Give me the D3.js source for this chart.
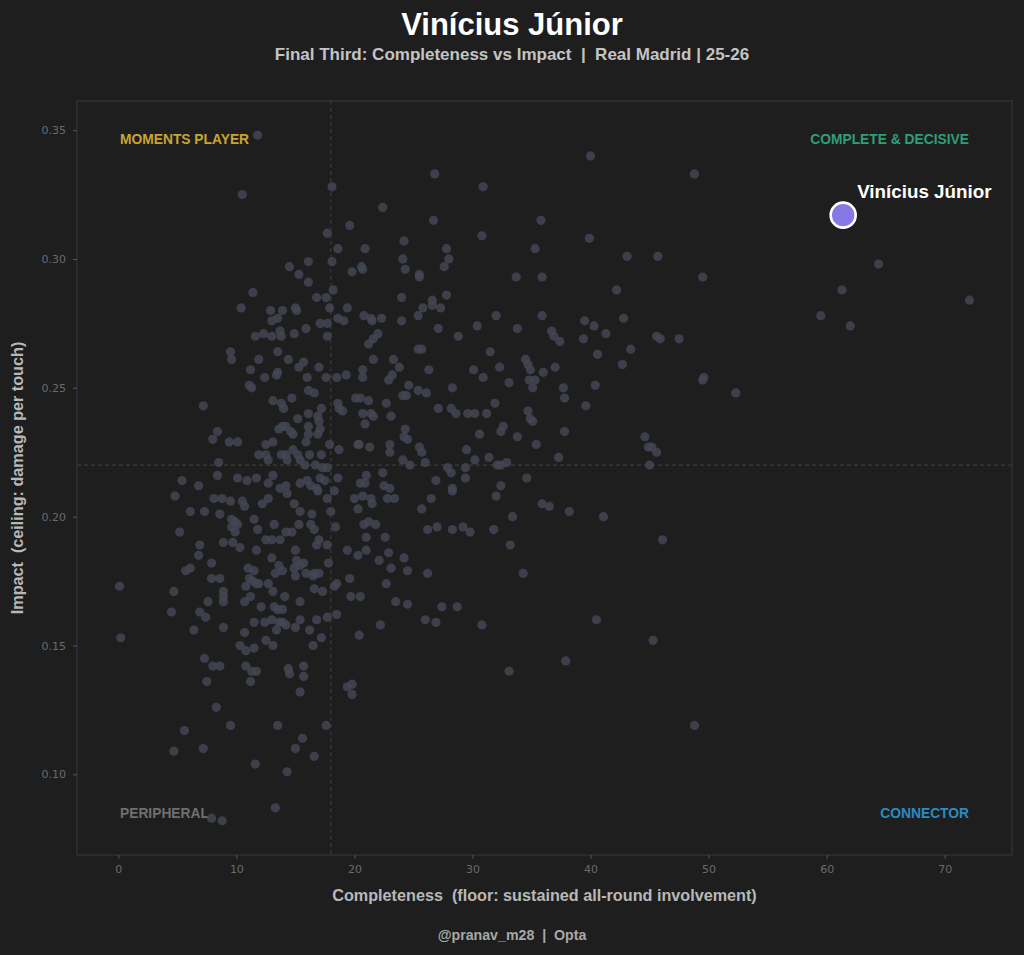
<!DOCTYPE html>
<html>
<head>
<meta charset="utf-8">
<script src="https://cdn.jsdelivr.net/npm/d3@7"></script>
<style>
  html, body { margin: 0; padding: 0; background: #1e1e1e; }
  svg { display: block; }
</style>
</head>
<body>
<div id="chart"></div>
<script>
// Completeness (x) and Impact (y) for every player in the pool
const completeness = [
  11.8,18.1,10.5,17.7,18.6,16.1,14.5,18.1,15.3,16.1,11.4,18.2,16.8,17.6,10.4,12.9,13.9,15.0,15.1,17.9,13.0,13.5,17.1,17.7,18.6,15.9,13.7,12.3,11.6,13.0,13.8,14.9,17.7,
  26.8,30.9,22.4,26.7,35.8,19.6,30.8,40.0,39.9,24.2,20.9,27.8,35.3,24.1,28.0,20.6,20.7,19.8,24.3,27.6,25.5,25.5,33.7,35.9,27.8,24.0,26.6,26.6,27.3,25.8,19.4,20.8,21.4,21.5,22.3,19.1,24.0,25.4,32.0,35.9,39.5,30.4,33.8,27.1,22.0,21.6,28.8,36.7,36.9,37.4,39.4,
  9.5,9.6,13.5,11.9,14.4,15.7,15.3,17.0,11.2,12.4,13.4,13.5,16.0,17.6,18.5,11.1,11.3,16.1,16.6,14.7,13.1,13.8,14.0,7.2,17.2,18.6,18.7,15.2,16.1,16.9,17.0,13.9,13.6,14.2,14.6,14.8,16.1,16.1,16.9,17.1,8.4,8.0,9.4,10.1,12.5,13.1,15.9,17.9,18.7,14.8,15.2,16.2,17.2,11.9,12.5,12.7,13.8,14.2,14.3,15.4,15.8,8.5,16.7,17.3,17.7,17.1,17.5,18.6,5.4,8.4,10.1,10.9,11.7,13.1,12.7,14.2,13.7,15.4,16.0,16.3,16.8,16.9,6.8,4.8,8.1,8.8,9.5,10.5,10.7,12.2,12.7,14.3,14.9,18.3,17.7,6.1,7.3,8.6,15.4,16.4,18.0,9.6,9.9,9.6,10.1,11.5,13.2,15.3,16.3,16.6,18.4,5.2,11.8,14.2,14.7,
  21.2,25.4,25.7,31.5,21.6,23.3,23.8,20.7,20.7,19.3,26.3,30.1,32.3,34.5,34.7,34.9,36.0,37.0,23.2,22.9,30.9,33.1,34.8,35.3,35.1,24.6,28.3,25.4,26.1,24.1,24.4,20.1,20.5,21.2,37.7,37.8,39.6,19.0,22.7,31.9,27.1,28.2,28.6,29.6,30.2,31.2,34.7,34.9,35.1,20.7,21.4,21.6,20.9,23.1,24.3,24.2,24.5,32.6,32.4,30.6,33.8,37.8,35.4,20.3,20.4,21.3,23.0,23.0,25.5,25.7,29.5,37.3,24.1,24.7,26.0,30.2,31.4,32.9,32.4,32.1,29.4,29.4,27.9,28.2,22.4,21.0,20.5,20.9,26.9,34.6,22.5,23.0,28.3,28.3,32.4,32.0,20.0,20.7,21.4,21.5,22.8,23.4,26.5,20.3,25.7,35.9,36.5,38.2,33.4,20.8,21.2,21.8,26.2,27.0,28.3,29.2,29.8,31.8,
  9.9,6.9,8.9,9.7,10.3,12.5,13.0,13.7,17.0,16.8,17.7,11.7,15.0,6.8,13.0,7.9,15.1,15.4,15.7,14.9,17.8,5.7,6.1,11.0,11.5,13.6,13.9,13.3,15.9,16.6,17.0,16.5,15.0,7.9,8.6,11.1,11.4,11.9,11.7,12.7,0.1,4.7,10.8,13.1,16.6,17.3,18.3,18.5,8.9,8.9,8.9,7.6,11.2,10.7,14.1,15.4,12.1,13.2,13.5,13.9,4.5,6.9,7.4,18.5,17.7,16.8,15.4,11.5,12.4,13.0,13.6,13.9,14.2,13.4,15.0,16.2,6.4,8.9,10.7,0.2,17.2,16.5,12.5,13.1,10.3,11.5,10.8,7.3,8.0,8.6,10.8,11.3,11.7,14.4,14.5,15.7,15.7,7.5,11.2,
  21.0,22.6,33.2,19.4,20.3,21.0,22.9,22.1,24.2,23.1,24.5,26.2,34.3,19.6,22.7,19.7,20.5,23.5,24.5,27.4,28.7,26.0,26.9,30.8,22.2,20.4,37.9,33.1,19.4,19.8,
  15.4,19.8,8.3,5.6,9.5,13.5,17.6,15.6,15.0,16.6,4.7,7.2,11.6,14.3,13.3,7.9,8.8,
  48.8,43.1,45.7,49.5,64.4,61.3,72.1,42.2,59.5,62.0,40.3,42.8,41.3,45.6,45.9,47.5,43.4,40.6,42.7,40.4,49.6,49.5,52.3,
  44.6,44.9,45.2,45.6,45.0,41.1,46.1,40.5,45.3,48.8
];
const impact = [
  .348,.328,.325,.310,.304,.299,.297,.299,.294,.291,.287,.288,.285,.285,.281,.280,.280,.281,.280,.281,.276,.277,.275,.275,.277,.273,.272,.271,.270,.270,.270,.271,.270,
  .333,.328,.320,.315,.315,.313,.309,.340,.308,.307,.304,.304,.304,.300,.300,.297,.296,.295,.296,.297,.294,.293,.293,.293,.286,.285,.284,.282,.281,.281,.281,.278,.277,.276,.277,.276,.276,.278,.278,.278,.276,.274,.273,.273,.271,.269,.270,.272,.270,.268,.269,
  .264,.261,.264,.261,.261,.260,.258,.258,.257,.254,.255,.256,.254,.254,.254,.251,.250,.249,.248,.246,.245,.244,.242,.243,.242,.244,.242,.238,.240,.239,.237,.235,.234,.235,.233,.232,.235,.232,.232,.234,.233,.230,.229,.229,.228,.229,.229,.228,.226,.226,.224,.224,.224,.224,.224,.222,.224,.224,.222,.222,.220,.221,.220,.219,.219,.215,.214,.215,.214,.216,.215,.214,.215,.216,.213,.212,.211,.213,.214,.212,.211,.210,.212,.208,.207,.207,.206,.206,.204,.205,.207,.209,.205,.210,.207,.202,.202,.201,.202,.201,.202,.199,.198,.196,.197,.199,.197,.197,.197,.195,.196,.194,.195,.194,.194,
  .267,.265,.265,.264,.261,.261,.258,.257,.254,.255,.257,.257,.258,.261,.259,.257,.256,.258,.255,.253,.254,.252,.253,.253,.250,.251,.250,.249,.248,.247,.247,.246,.246,.245,.250,.246,.243,.241,.244,.244,.242,.242,.240,.240,.240,.240,.241,.238,.237,.240,.240,.239,.236,.239,.234,.231,.230,.235,.233,.232,.231,.233,.228,.228,.228,.227,.228,.225,.227,.225,.226,.223,.222,.220,.221,.222,.223,.221,.220,.220,.219,.215,.219,.217,.217,.216,.213,.213,.214,.215,.212,.211,.211,.210,.212,.208,.207,.208,.207,.205,.207,.207,.207,.203,.203,.205,.204,.202,.200,.197,.198,.197,.195,.196,.195,.196,.194,.195,
  .194,.189,.190,.190,.188,.191,.191,.191,.191,.189,.189,.187,.187,.185,.184,.182,.183,.181,.182,.180,.182,.179,.180,.180,.179,.181,.179,.178,.178,.178,.178,.177,.177,.176,.176,.176,.175,.174,.174,.174,.173,.171,.173,.171,.172,.171,.173,.174,.171,.169,.167,.167,.169,.167,.169,.167,.165,.165,.164,.164,.163,.163,.161,.162,.161,.160,.160,.159,.159,.160,.159,.159,.158,.156,.157,.156,.156,.157,.155,.153,.153,.150,.152,.150,.150,.149,.148,.145,.142,.142,.142,.140,.140,.141,.139,.142,.138,.136,.136,
  .192,.192,.189,.187,.185,.187,.186,.183,.184,.180,.179,.178,.178,.176,.174,.169,.169,.167,.166,.165,.165,.160,.159,.158,.158,.154,.144,.140,.134,.135,
  .132,.131,.126,.117,.119,.119,.119,.114,.110,.107,.109,.110,.104,.101,.087,.083,.082,
  .333,.301,.301,.293,.298,.288,.284,.288,.278,.274,.274,.277,.271,.270,.269,.269,.265,.263,.259,.251,.254,.253,.248,
  .231,.227,.227,.225,.220,.200,.191,.160,.152,.119
];

const highlightName = "Vinícius Júnior";
const highlightPoint = [61.4, 0.317];

const xSplit = 18;     // completeness threshold
const ySplit = 0.22;   // impact threshold

const xTicks = [0, 10, 20, 30, 40, 50, 60, 70];
const yTicks = [0.10, 0.15, 0.20, 0.25, 0.30, 0.35];

const quadrants = [
  { label: "MOMENTS PLAYER", color: "#c8a530", corner: "tl" },
  { label: "COMPLETE & DECISIVE", color: "#2e9f76", corner: "tr" },
  { label: "PERIPHERAL", color: "#6f6f6f", corner: "bl" },
  { label: "CONNECTOR", color: "#2a8cc2", corner: "br" }
];

const W = 1024, H = 955;
const margin = { top: 101, right: 12, bottom: 100, left: 77 };
const innerW = W - margin.left - margin.right;
const innerH = H - margin.top - margin.bottom;
const FONT = "'Liberation Sans', Arial, sans-serif";

const svg = d3.select("#chart").append("svg")
    .attr("width", W)
    .attr("height", H)
    .style("background", "#1e1e1e");

// 5% padding around the data range, like the source
const allX = completeness.concat([highlightPoint[0]]);
const allY = impact.concat([highlightPoint[1]]);
const pad = (ext) => { const p = (ext[1] - ext[0]) * 0.05; return [ext[0] - p, ext[1] + p]; };

const x = d3.scaleLinear().domain(pad(d3.extent(allX))).range([0, innerW]);
const y = d3.scaleLinear().domain(pad(d3.extent(allY))).range([innerH, 0]);

const g = svg.append("g").attr("transform", `translate(${margin.left},${margin.top})`);

// frame
g.append("rect")
    .attr("width", innerW)
    .attr("height", innerH)
    .attr("fill", "none")
    .attr("stroke", "#353535")
    .attr("stroke-width", 1.2);

// axes
const xAxis = g.append("g")
    .attr("transform", `translate(0,${innerH})`)
    .call(d3.axisBottom(x).tickValues(xTicks).tickFormat(d3.format("d")).tickSize(4).tickPadding(6));
const yAxis = g.append("g")
    .call(d3.axisLeft(y).tickValues(yTicks).tickFormat(d3.format(".2f")).tickSize(4).tickPadding(7));

[xAxis, yAxis].forEach(a => {
    a.select(".domain").remove();
    a.selectAll(".tick line").attr("stroke", "#555");
    a.selectAll(".tick text")
        .attr("fill", "#6a6a6a")
        .style("font-family", "'DejaVu Sans', sans-serif")
        .style("font-size", "11px");
});

// split lines
g.append("line")
    .attr("x1", x(xSplit)).attr("x2", x(xSplit))
    .attr("y1", 0).attr("y2", innerH)
    .attr("stroke", "#3c3c3c").attr("stroke-width", 1.1)
    .attr("stroke-dasharray", "4,3");
g.append("line")
    .attr("x1", 0).attr("x2", innerW)
    .attr("y1", y(ySplit)).attr("y2", y(ySplit))
    .attr("stroke", "#3c3c3c").attr("stroke-width", 1.1)
    .attr("stroke-dasharray", "4,3");

// quadrant labels
const qx = { l: innerW * 0.046, r: innerW * 0.954 };
const qy = { t: innerH * 0.05, b: innerH * 0.944 };
g.append("g").selectAll("text")
    .data(quadrants)
    .join("text")
    .attr("x", d => d.corner[1] === "l" ? qx.l : qx.r)
    .attr("y", d => d.corner[0] === "t" ? qy.t : qy.b)
    .attr("dy", "0.35em")
    .attr("text-anchor", d => d.corner[1] === "l" ? "start" : "end")
    .attr("fill", d => d.color)
    .style("font-family", FONT)
    .style("font-weight", "bold")
    .style("font-size", "13.8px")
    .text(d => d.label);

// player pool
g.append("g").selectAll("circle")
    .data(d3.range(completeness.length))
    .join("circle")
    .attr("cx", i => x(completeness[i]))
    .attr("cy", i => y(impact[i]))
    .attr("r", 4.6)
    .attr("fill", "#434753")
    .attr("fill-opacity", 0.85);

// highlighted player
g.append("circle")
    .attr("cx", x(highlightPoint[0]))
    .attr("cy", y(highlightPoint[1]))
    .attr("r", 12.5)
    .attr("fill", "#8878e6")
    .attr("stroke", "#ffffff")
    .attr("stroke-width", 2.6);
g.append("text")
    .attr("x", x(highlightPoint[0]) + 14)
    .attr("y", y(highlightPoint[1]) - 17)
    .attr("fill", "#ffffff")
    .style("font-family", FONT)
    .style("font-weight", "bold")
    .style("font-size", "18.8px")
    .text(highlightName);

// axis titles
svg.append("text")
    .attr("x", margin.left + innerW / 2)
    .attr("y", 901)
    .attr("text-anchor", "middle")
    .attr("fill", "#b8b8b8")
    .style("font-family", FONT)
    .style("font-weight", "bold")
    .style("font-size", "16.2px")
    .style("white-space", "pre")
    .text("Completeness  (floor: sustained all-round involvement)");
svg.append("text")
    .attr("transform", `translate(23,${margin.top + innerH / 2}) rotate(-90)`)
    .attr("text-anchor", "middle")
    .attr("fill", "#b8b8b8")
    .style("font-family", FONT)
    .style("font-weight", "bold")
    .style("font-size", "16.2px")
    .style("white-space", "pre")
    .text("Impact  (ceiling: damage per touch)");

// titles
svg.append("text")
    .attr("x", W / 2)
    .attr("y", 35)
    .attr("text-anchor", "middle")
    .attr("fill", "#ffffff")
    .style("font-family", FONT)
    .style("font-weight", "bold")
    .style("font-size", "31px")
    .text("Vinícius Júnior");
svg.append("text")
    .attr("x", W / 2)
    .attr("y", 60)
    .attr("text-anchor", "middle")
    .attr("fill", "#c4c4c4")
    .style("font-family", FONT)
    .style("font-weight", "bold")
    .style("font-size", "17px")
    .style("white-space", "pre")
    .text("Final Third: Completeness vs Impact  |  Real Madrid | 25-26");

// footer
svg.append("text")
    .attr("x", W / 2)
    .attr("y", 940)
    .attr("text-anchor", "middle")
    .attr("fill", "#a8a8a8")
    .style("font-family", FONT)
    .style("font-weight", "bold")
    .style("font-size", "14.2px")
    .style("white-space", "pre")
    .text("@pranav_m28  |  Opta");
</script>
</body>
</html>
